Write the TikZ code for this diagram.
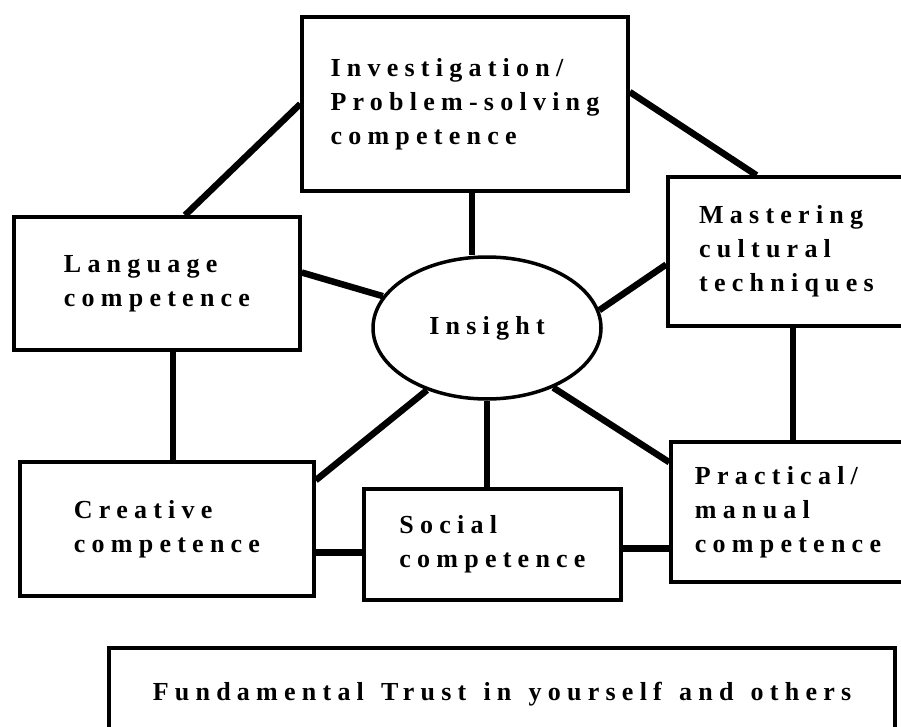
\documentclass[tikz,border=0pt]{standalone}
\usepackage{fontspec}
\setmainfont{Liberation Serif}
\newfontfamily\spaced[LetterSpace=24, WordSpace=1.35]{Liberation Serif}
\usetikzlibrary{shapes.geometric}
\usetikzlibrary{positioning}
\tikzset{comp/.style = {draw, rectangle, line width=3.5pt, inner sep=0pt, align=left,
                        font=\spaced\bfseries\fontsize{26}{34}\selectfont},
         core/.style = {comp, ellipse, align=center},
         link/.style = {line width=6.5pt}}

\begin{document}
\begin{tikzpicture}[x=1pt, y=-1pt]
      \clip (0, 0) rectangle (901, 727);

      % the competences round the centre
      \node [comp, minimum width=326pt, minimum height=174pt] (inv) at (465, 104)
            {Investigation/\\Problem-solving\\competence};
      \node [comp, minimum width=237pt, minimum height=149pt] (mas) at (786.5, 251.5)
            {Mastering\\cultural\\techniques};
      \node [comp, minimum width=286pt, minimum height=133pt] (lang) at (157, 283.5)
            {Language\\competence};
      \node [comp, minimum width=294pt, minimum height=134pt] (cre) at (167, 529)
            {Creative\\competence};
      \node [comp, minimum width=257pt, minimum height=111pt] (soc) at (492.5, 544.5)
            {Social\\competence};
      \node [comp, minimum width=234pt, minimum height=140pt] (pra) at (788, 512)
            {Practical/\\manual\\competence};
      \node [core, minimum width=228pt, minimum height=142pt] (ins) at (487, 328) {Insight};

      % the base
      \node [comp, minimum width=786pt, minimum height=92pt] (trust) at (502, 694)
            {Fundamental Trust in yourself and others};

      \draw [link] (inv.west) -- ([xshift=28pt]lang.north);
      \draw [link] ([yshift=12pt]inv.east) -- ([xshift=-30pt]mas.north);
      \draw [link] ([xshift=7pt]inv.south) -- ([xshift=7pt]inv.south |- ins.north);
      \draw [link] ([yshift=11pt]lang.east) -- (ins.163);
      \draw [link] ([yshift=-13pt]mas.west) -- (ins.9);
      \draw [link] ([xshift=6pt]cre.north) -- ([xshift=6pt]cre.north |- lang.south);
      \draw [link] ([xshift=5pt]pra.north) -- ([xshift=5pt]pra.north |- mas.south);
      \draw [link] (ins.226) -- ([yshift=-20pt]cre.north east);
      \draw [link] (ins.south) -- (ins.south |- soc.north);
      \draw [link] (ins.318) -- ([yshift=-22pt]pra.north west);
      \draw [link] ([yshift=-8pt]soc.west) -- ([yshift=-8pt]soc.west -| cre.east);
      \draw [link] ([yshift=-4pt]soc.east) -- ([yshift=-4pt]soc.east -| pra.west);
\end{tikzpicture}
\end{document}
